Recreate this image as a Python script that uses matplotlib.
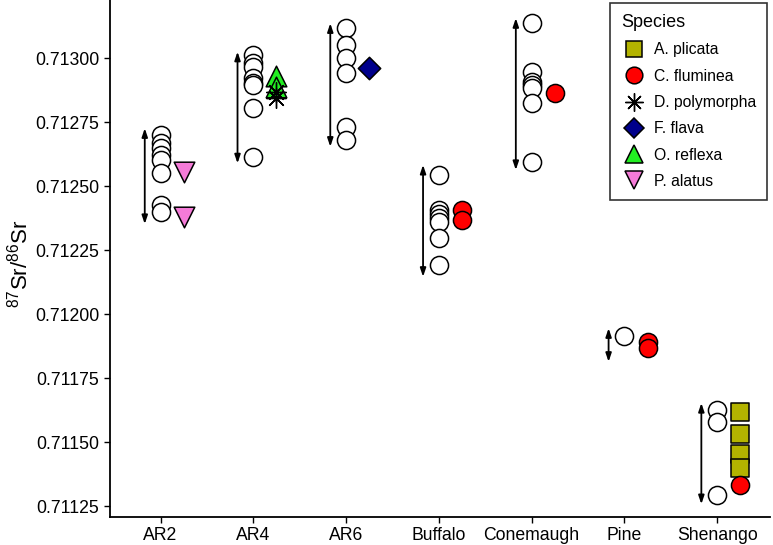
import numpy as np
import matplotlib.pyplot as plt
from matplotlib.lines import Line2D

plt.rcParams['font.family'] = ['Liberation Sans', 'DejaVu Sans']
plt.rcParams['mathtext.fontset'] = 'custom'
plt.rcParams['mathtext.rm'] = 'Liberation Sans'

# --- dados ---
sites = ["AR2", "AR4", "AR6", "Buffalo", "Conemaugh", "Pine", "Shenango"]

# valores de água (círculos abertos)
water_ar2 = [0.712701, 0.712668, 0.712649, 0.712623, 0.712603, 0.712551, 0.712427, 0.712401]
water_ar4 = [0.713013, 0.712983, 0.712968, 0.712922, 0.712903, 0.712896, 0.712805, 0.712616]
water_ar6 = [0.713118, 0.713052, 0.713000, 0.712942, 0.712733, 0.712681]
water_buffalo = [0.712545, 0.712408, 0.712392, 0.712375, 0.712362, 0.712297, 0.712193]
water_conemaugh = [0.713137, 0.712948, 0.712909, 0.712896, 0.712883, 0.712825, 0.712596]
water_pine = [0.711917]
water_shenango = [0.711627, 0.711581, 0.711295]
water_all = [water_ar2, water_ar4, water_ar6, water_buffalo,
             water_conemaugh, water_pine, water_shenango]

# intervalo das setas
arrow_low = [0.712353, 0.712590, 0.712655, 0.712147, 0.712564, 0.711815, 0.711259]
arrow_high = [0.712727, 0.713026, 0.713137, 0.712584, 0.713157, 0.711946, 0.711654]

# moluscos
mussel_site = ["AR2", "AR2", "AR4", "AR4", "AR4", "AR4", "AR6",
               "Buffalo", "Buffalo", "Conemaugh", "Pine", "Pine",
               "Shenango", "Shenango", "Shenango", "Shenango", "Shenango"]
mussel_species = ["P. alatus", "P. alatus", "O. reflexa", "O. reflexa",
                  "D. polymorpha", "D. polymorpha", "F. flava",
                  "C. fluminea", "C. fluminea", "C. fluminea",
                  "C. fluminea", "C. fluminea",
                  "A. plicata", "A. plicata", "A. plicata", "A. plicata",
                  "C. fluminea"]
mussel_value = [0.712557, 0.712380, 0.712931, 0.712889, 0.712870, 0.712845,
                0.712964, 0.712408, 0.712369, 0.712864, 0.711893, 0.711868,
                0.711620, 0.711533, 0.711455, 0.711400, 0.711334]

species_order = ["A. plicata", "C. fluminea", "D. polymorpha",
                 "F. flava", "O. reflexa", "P. alatus"]

yticks = [0.71125, 0.71150, 0.71175, 0.71200, 0.71225, 0.71250, 0.71275, 0.71300]

# --- estilos ---
STYLE = {
    "A. plicata": dict(marker="s", color="#B3B300", s=150),
    "C. fluminea": dict(marker="o", color="#FF0000", s=170),
    "D. polymorpha": dict(marker=(8, 2, 0), color="black", s=200),
    "F. flava": dict(marker="D", color="#00008B", s=130),
    "O. reflexa": dict(marker="^", color="#22EE22", s=220),
    "P. alatus": dict(marker="v", color="#F57BD8", s=220),
}

fig = plt.figure(figsize=(7.73, 5.45), dpi=100)
ax = fig.add_axes([109.5 / 773, 1 - 516.7 / 545, (770 - 109.5) / 773, 516.7 / 545])

xpos = {s: i + 1 for i, s in enumerate(sites)}

for i, vals in enumerate(water_all):
    ax.scatter([i + 1] * len(vals), vals, s=170, facecolor="white",
               edgecolor="black", linewidth=1.1, zorder=3)
    ax.annotate("", xy=(i + 1 - 0.17, arrow_low[i]), xytext=(i + 1 - 0.17, arrow_high[i]),
                arrowprops=dict(arrowstyle="<|-|>,head_length=0.5,head_width=0.17",
                                color="black", lw=1.3, shrinkA=0, shrinkB=0))

for site, sp, v in zip(mussel_site, mussel_species, mussel_value):
    st = STYLE[sp]
    if sp == "D. polymorpha":
        ax.scatter(xpos[site] + 0.25, v, marker=st["marker"], s=st["s"],
                   color="black", linewidth=1.0, zorder=4)
    else:
        ax.scatter(xpos[site] + 0.25, v, marker=st["marker"], s=st["s"],
                   facecolor=st["color"], edgecolor="black", linewidth=1.1, zorder=4)

ax.set_xlim(0.45, 7.57)
ax.set_ylim(0.711210, 0.713228)
ax.set_xticks(range(1, len(sites) + 1))
ax.set_xticklabels(sites)
ax.set_yticks(yticks)
ax.set_yticklabels([f"{t:.5f}" for t in yticks])
ax.tick_params(labelsize=12.7, length=4, width=1.0, colors="black")
for side in ["top", "right"]:
    ax.spines[side].set_visible(False)
for side in ["left", "bottom"]:
    ax.spines[side].set_linewidth(1.3)

ax.set_ylabel(r"$^{87}$Sr/$^{86}$Sr", fontsize=16)
ax.yaxis.set_label_coords(-0.117, 0.49)

handles = []
for sp in species_order:
    st = STYLE[sp]
    if sp == "D. polymorpha":
        h = Line2D([], [], linestyle="none", marker=st["marker"], markersize=13,
                   color="black", markeredgewidth=1.0)
    else:
        h = Line2D([], [], linestyle="none", marker=st["marker"],
                   markersize=np.sqrt(st["s"]) * 0.92, markerfacecolor=st["color"],
                   markeredgecolor="black", markeredgewidth=1.1)
    handles.append(h)

leg = ax.legend(handles, species_order, title="Species", loc="upper right",
                bbox_to_anchor=(1.0, 1.0), fontsize=11.3, title_fontsize=13,
                frameon=True, fancybox=False, edgecolor="black",
                borderpad=0.7, labelspacing=0.72, handletextpad=0.45,
                handlelength=1.6, borderaxespad=0.2)
leg._legend_box.align = "left"
leg.get_frame().set_linewidth(1.2)

fig.savefig("out.png", dpi=100)
